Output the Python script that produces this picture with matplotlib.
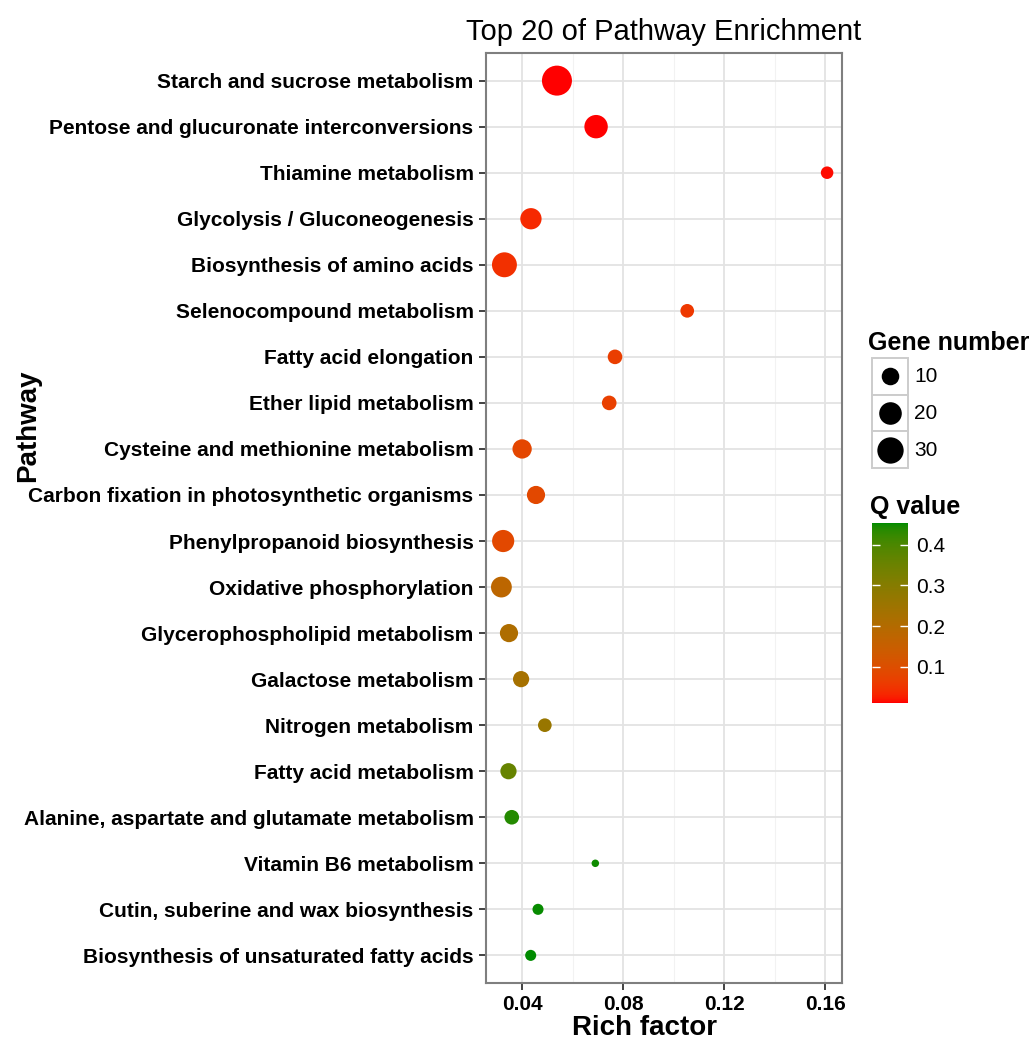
"""
KEGG pathway enrichment bubble chart (Top 20).
"""

import numpy as np
import matplotlib
matplotlib.use("Agg")
import matplotlib.pyplot as plt
from matplotlib.colors import ListedColormap, Normalize
from matplotlib.cm import ScalarMappable
from matplotlib.patches import Rectangle

plt.rcParams["font.family"] = ["Liberation Sans", "DejaVu Sans"]

# ---- data (top to bottom as shown) ----
pathways = [
    "Starch and sucrose metabolism",
    "Pentose and glucuronate interconversions",
    "Thiamine metabolism",
    "Glycolysis / Gluconeogenesis",
    "Biosynthesis of amino acids",
    "Selenocompound metabolism",
    "Fatty acid elongation",
    "Ether lipid metabolism",
    "Cysteine and methionine metabolism",
    "Carbon fixation in photosynthetic organisms",
    "Phenylpropanoid biosynthesis",
    "Oxidative phosphorylation",
    "Glycerophospholipid metabolism",
    "Galactose metabolism",
    "Nitrogen metabolism",
    "Fatty acid metabolism",
    "Alanine, aspartate and glutamate metabolism",
    "Vitamin B6 metabolism",
    "Cutin, suberine and wax biosynthesis",
    "Biosynthesis of unsaturated fatty acids",
]
rich_factor = [0.0537, 0.0692, 0.1607, 0.0434, 0.0329, 0.1053, 0.0767, 0.0744,
               0.0399, 0.0454, 0.0324, 0.0317, 0.0347, 0.0395, 0.0489, 0.0345,
               0.0358, 0.0689, 0.0462, 0.0433]
gene_number = [42, 22, 4, 17, 26, 5, 6, 6, 13, 11, 19, 16, 11, 8, 5, 8, 6, 2, 3, 3]
q_value = [0.0104, 0.012, 0.015, 0.035, 0.045, 0.055, 0.065, 0.068, 0.08, 0.085,
           0.085, 0.18, 0.21, 0.23, 0.26, 0.36, 0.44, 0.45, 0.452, 0.454]

size_breaks = [10, 20, 30]
q_ticks = [0.1, 0.2, 0.3, 0.4]

DPI = 100


# ---- colour scale: red -> green interpolated in CIELAB (like ggplot) ----
def _srgb_to_lab(rgb):
    rgb = np.asarray(rgb, dtype=float)
    lin = np.where(rgb <= 0.04045, rgb / 12.92, ((rgb + 0.055) / 1.055) ** 2.4)
    m = np.array([[0.4124, 0.3576, 0.1805],
                  [0.2126, 0.7152, 0.0722],
                  [0.0193, 0.1192, 0.9505]])
    xyz = m @ lin / np.array([0.95047, 1.0, 1.08883])
    f = np.where(xyz > 0.008856, np.cbrt(xyz), 7.787 * xyz + 16 / 116)
    return np.array([116 * f[1] - 16, 500 * (f[0] - f[1]), 200 * (f[1] - f[2])])


def _lab_to_srgb(lab):
    L, a, b = lab
    fy = (L + 16) / 116
    fx = fy + a / 500
    fz = fy - b / 200
    f = np.array([fx, fy, fz])
    xyz = np.where(f ** 3 > 0.008856, f ** 3, (f - 16 / 116) / 7.787)
    xyz = xyz * np.array([0.95047, 1.0, 1.08883])
    m_inv = np.array([[3.2406, -1.5372, -0.4986],
                      [-0.9689, 1.8758, 0.0415],
                      [0.0557, -0.2040, 1.0570]])
    lin = m_inv @ xyz
    rgb = np.where(lin <= 0.0031308, 12.92 * lin, 1.055 * np.clip(lin, 0, None) ** (1 / 2.4) - 0.055)
    return np.clip(rgb, 0, 1)


low_lab = _srgb_to_lab([1.0, 0.0, 0.0])
high_lab = _srgb_to_lab([0.0, 0x8B / 255, 0.0])
ramp = [_lab_to_srgb(low_lab + t * (high_lab - low_lab)) for t in np.linspace(0, 1, 256)]
cmap = ListedColormap(ramp)
norm = Normalize(vmin=min(q_value), vmax=max(q_value))


# ---- size scale (diameter in px, area-style like scale_size) ----
n_min, n_max = min(gene_number), max(gene_number)


def size_pts2(n):
    n = np.asarray(n, dtype=float)
    d_px = 7.5 + 22.5 * np.sqrt((n - n_min) / (n_max - n_min))
    d_pt = d_px * 72 / DPI
    return d_pt ** 2


# ---- figure ----
fig = plt.figure(figsize=(10.32, 10.41), dpi=DPI)
ax = fig.add_axes([486 / 1032, 1 - 983 / 1041, (842 - 486) / 1032, (983 - 53) / 1041])

ypos = np.arange(len(pathways))[::-1] + 1
ax.scatter(rich_factor, ypos, s=size_pts2(gene_number), c=q_value, cmap=cmap, norm=norm,
           linewidths=0, zorder=3)

ax.set_xlim(0.0256, 0.1666)
ax.set_ylim(0.4, len(pathways) + 0.6)
ax.set_xticks([0.04, 0.08, 0.12, 0.16])
ax.set_xticklabels(["0.04", "0.08", "0.12", "0.16"])
ax.set_xticks([0.06, 0.10, 0.14], minor=True)
ax.set_yticks(ypos)
ax.set_yticklabels(pathways)

ax.grid(True, which="major", color="#E3E3E3", linewidth=1.3, zorder=0)
ax.grid(True, which="minor", axis="x", color="#F2F2F2", linewidth=0.8, zorder=0)
ax.set_axisbelow(True)
for sp in ax.spines.values():
    sp.set_color("#7F7F7F")
    sp.set_linewidth(1.5)

ax.tick_params(axis="both", which="major", length=5, width=1.3, color="#333333", pad=4)
ax.tick_params(axis="x", which="minor", length=0)
for lab in ax.get_yticklabels() + ax.get_xticklabels():
    lab.set_fontsize(15)
    lab.set_fontweight("bold")

ax.set_xlabel("Rich factor", fontsize=20, fontweight="bold")
ax.xaxis.set_label_coords((644 - 486) / 356, -(1028 - 983) / 930)
ax.xaxis.label.set_va("center")
ax.set_ylabel("Pathway", fontsize=20, fontweight="bold")
ax.yaxis.set_label_coords(-(486 - 28) / 356, (983 - 426) / 930)
ax.yaxis.label.set_va("center")
ax.set_title("Top 20 of Pathway Enrichment", fontsize=21, pad=9)

# ---- size legend ----
fig.text(868 / 1032, 1 - 343 / 1041, "Gene number", fontsize=18, fontweight="bold",
         va="center", ha="left")
lax = fig.add_axes([872 / 1032, 1 - 468 / 1041, 36 / 1032, 110 / 1041])
lax.set_xlim(0, 1)
lax.set_ylim(0, 3)
lax.axis("off")
for i, b in enumerate(size_breaks):
    yc = 2.5 - i
    lax.add_patch(Rectangle((0, yc - 0.5), 1, 1, facecolor="white", edgecolor="#CCCCCC",
                            linewidth=1.4, clip_on=False))
    lax.scatter([0.5], [yc], s=size_pts2(b), color="black", linewidths=0, zorder=3)
    fig.text(914 / 1032, 1 - (377 + 36.5 * i) / 1041, str(b), fontsize=15,
             va="center", ha="left")

# ---- colour legend ----
fig.text(870 / 1032, 1 - 507 / 1041, "Q value", fontsize=18, fontweight="bold",
         va="center", ha="left")
cax = fig.add_axes([872 / 1032, 1 - 703 / 1041, 36 / 1032, 180 / 1041])
cb = fig.colorbar(ScalarMappable(norm=norm, cmap=cmap), cax=cax)
cb.outline.set_visible(False)
cb.set_ticks(q_ticks)
cb.set_ticklabels([str(t) for t in q_ticks])
cax.tick_params(axis="y", direction="in", length=6, width=1, colors="white",
                left=True, right=True, labelsize=15, pad=6)
for lab in cax.get_yticklabels():
    lab.set_color("black")

fig.savefig("out.png", dpi=DPI)
